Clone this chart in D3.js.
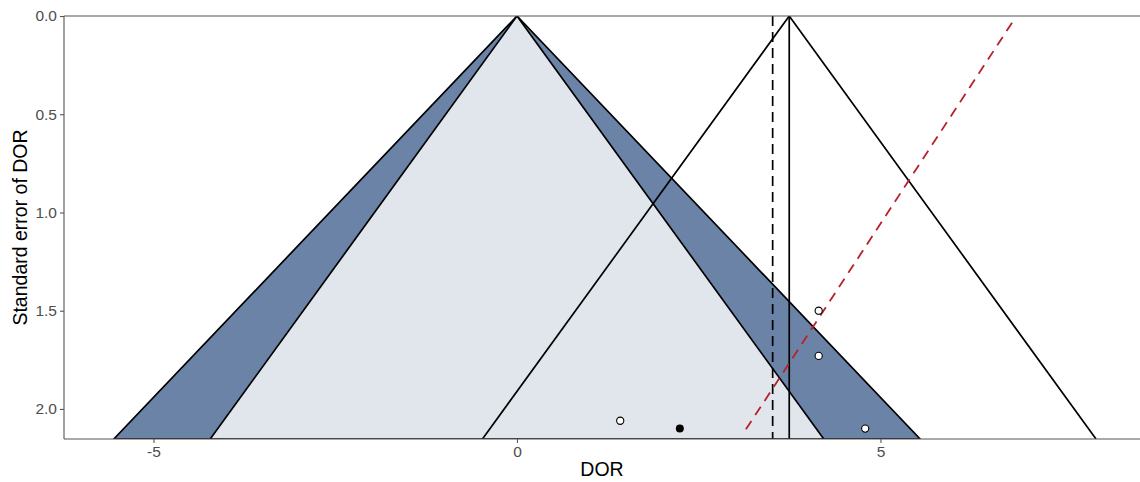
<!DOCTYPE html>
<html>
<head>
<meta charset="utf-8">
<script src="https://cdn.jsdelivr.net/npm/d3@7"></script>
<style>
  body { margin: 0; background: #fff; }
  text { font-family: "Liberation Sans", Arial, sans-serif; }
  .axis path, .axis line { stroke: #555; stroke-width: 1.1; }
  .axis text { fill: #4d4d4d; font-size: 15.5px; }
</style>
</head>
<body>
<div id="chart"></div>
<script>
// study estimates (DOR) and standard errors
var studyDOR = [4.15, 4.15, 1.42, 4.79];
var studySE = [1.50, 1.73, 2.06, 2.10];
// filled point
var filledDOR = [2.24];
var filledSE = [2.10];

var nullCenter = 0;          // contour funnel centre
var pooledEst = 3.745;       // solid line / second funnel
var dashedEst = 3.517;       // dashed vertical
var z95 = 1.96, z99 = 2.576;
// red dashed regression line endpoints [DOR, SE]
var regLine = [[6.81, 0.034], [3.11, 2.126]];

var xTicks = [-5, 0, 5];
var yTicks = [0, 0.5, 1, 1.5, 2];
var seMax = 2.153;

(function(){
  var W = 1140, H = 482;
  var plot = {left: 64, top: 16, right: 1140, bottom: 439};

  var x = d3.scaleLinear().domain([-6.231, 8.570]).range([plot.left, plot.right]);
  var y = d3.scaleLinear().domain([0, seMax]).range([plot.top, plot.bottom]);

  var svg = d3.select('#chart')
    .append('svg')
    .attr('width', W)
    .attr('height', H);

  svg.append('defs').append('clipPath').attr('id', 'clip')
    .append('rect')
    .attr('x', plot.left).attr('y', plot.top)
    .attr('width', plot.right - plot.left).attr('height', plot.bottom - plot.top);

  var g = svg.append('g').attr('clip-path', 'url(#clip)');

  function tri(c, z) {
    return [[c, 0], [c - z * seMax, seMax], [c + z * seMax, seMax]];
  }
  var line = d3.line().x(function(d) {return x(d[0]);}).y(function(d) {return y(d[1]);});

  // contour regions
  g.append('path')
    .attr('d', line(tri(nullCenter, z99)) + 'Z')
    .attr('fill', '#6a83a7')
    .attr('stroke', '#000')
    .attr('stroke-width', 1.7)
    .attr('stroke-linejoin', 'round');
  g.append('path')
    .attr('d', line(tri(nullCenter, z95)) + 'Z')
    .attr('fill', '#e1e6ec')
    .attr('stroke', '#000')
    .attr('stroke-width', 1.7)
    .attr('stroke-linejoin', 'round');

  // funnel around pooled estimate
  var t = tri(pooledEst, z95);
  g.append('path')
    .attr('d', line([t[1], t[0], t[2]]))
    .attr('fill', 'none')
    .attr('stroke', '#000')
    .attr('stroke-width', 1.7);

  g.append('line')
    .attr('x1', x(pooledEst)).attr('x2', x(pooledEst))
    .attr('y1', y(0)).attr('y2', y(seMax))
    .attr('stroke', '#000').attr('stroke-width', 1.7);

  g.append('line')
    .attr('x1', x(dashedEst)).attr('x2', x(dashedEst))
    .attr('y1', y(0)).attr('y2', y(seMax))
    .attr('stroke', '#000').attr('stroke-width', 1.7)
    .attr('stroke-dasharray', '10,6');

  g.append('path')
    .attr('d', line(regLine))
    .attr('stroke', '#b8202a').attr('stroke-width', 1.8)
    .attr('fill', 'none')
    .attr('stroke-dasharray', '10,7');

  // points
  g.selectAll('circle.open')
    .data(studyDOR)
    .enter()
    .append('circle')
    .attr('class', 'open')
    .attr('cx', function(d) {return x(d);})
    .attr('cy', function(d, i) {return y(studySE[i]);})
    .attr('r', 3.6)
    .attr('fill', '#fff')
    .attr('stroke', '#000')
    .attr('stroke-width', 1.1);

  g.selectAll('circle.filled')
    .data(filledDOR)
    .enter()
    .append('circle')
    .attr('class', 'filled')
    .attr('cx', function(d) {return x(d);})
    .attr('cy', function(d, i) {return y(filledSE[i]);})
    .attr('r', 4)
    .attr('fill', '#000');

  // top line at se = 0
  svg.append('line')
    .attr('x1', plot.left).attr('x2', plot.right)
    .attr('y1', y(0)).attr('y2', y(0))
    .attr('stroke', '#555').attr('stroke-width', 1.1);

  // axes
  svg.append('g')
    .attr('class', 'axis')
    .attr('transform', 'translate(0,' + plot.bottom + ')')
    .call(d3.axisBottom(x).tickValues(xTicks).tickSize(4).tickPadding(3).tickFormat(function(d) {return String(d);}))
    .call(function(a) {a.select('.domain').attr('d', 'M' + plot.left + ',0H' + plot.right);});

  svg.append('g')
    .attr('class', 'axis')
    .attr('transform', 'translate(' + plot.left + ',0)')
    .call(d3.axisLeft(y).tickValues(yTicks).tickSize(4).tickPadding(3).tickFormat(function(d) {return d.toFixed(1);}))
    .call(function(a) {a.select('.domain').attr('d', 'M0,' + plot.top + 'V' + plot.bottom);});

  svg.append('text')
    .attr('x', (plot.left + plot.right) / 2)
    .attr('y', 476)
    .attr('text-anchor', 'middle')
    .attr('font-size', '19.5px')
    .attr('fill', '#000')
    .text('DOR');

  svg.append('text')
    .attr('transform', 'translate(27,' + ((plot.top + plot.bottom) / 2) + ') rotate(-90)')
    .attr('text-anchor', 'middle')
    .attr('font-size', '19.5px')
    .attr('fill', '#000')
    .text('Standard error of DOR');
})();
</script>
</body>
</html>
